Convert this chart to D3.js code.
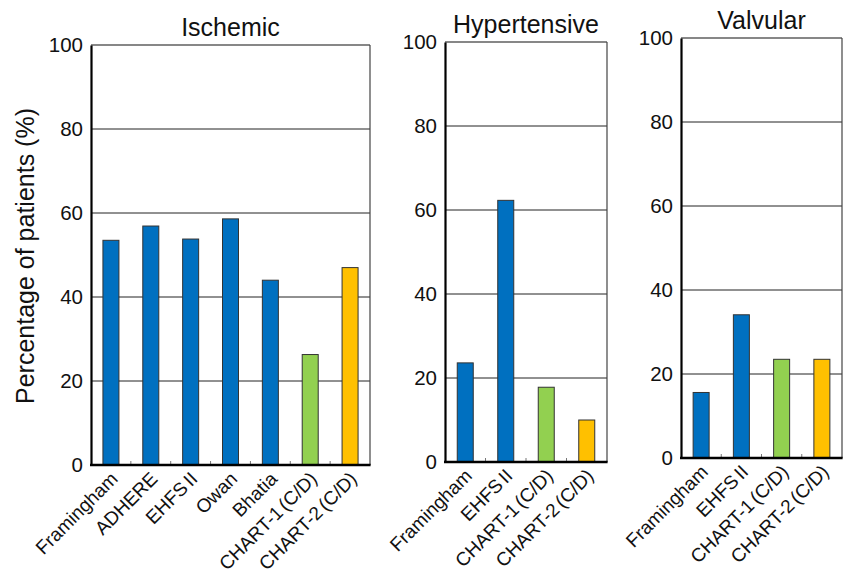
<!DOCTYPE html>
<html>
<head>
<meta charset="utf-8">
<script src="https://cdn.jsdelivr.net/npm/d3@7"></script>
<style>
  html, body { margin: 0; padding: 0; background: #fff; }
  svg { display: block; font-family: "Liberation Sans", Arial, Helvetica, sans-serif; }
</style>
</head>
<body>
<svg id="chart" width="845" height="575"></svg>
<script>
// ---- Data ----
const panelTitles = ["Ischemic", "Hypertensive", "Valvular"];
const ischemicCategories = ["Framingham", "ADHERE", "EHFS II", "Owan", "Bhatia", "CHART-1 (C/D)", "CHART-2 (C/D)"];
const ischemicValues = [53.5, 56.9, 53.8, 58.6, 44.0, 26.3, 47.0];
const hypertensiveCategories = ["Framingham", "EHFS II", "CHART-1 (C/D)", "CHART-2 (C/D)"];
const hypertensiveValues = [23.6, 62.3, 17.8, 10.0];
const valvularCategories = ["Framingham", "EHFS II", "CHART-1 (C/D)", "CHART-2 (C/D)"];
const valvularValues = [15.6, 34.1, 23.5, 23.5];
const yTicks = [0, 20, 40, 60, 80, 100];
const yAxisTitle = "Percentage of patients (%)";

// ---- Styles / layout ----
const colorFor = c => c.startsWith("CHART-1") ? "#92D050" : c.startsWith("CHART-2") ? "#FFC000" : "#0070C0";
const panels = [
  { title: panelTitles[0], cats: ischemicCategories, vals: ischemicValues, left: 91, right: 370, top: 45, bottom: 465 },
  { title: panelTitles[1], cats: hypertensiveCategories, vals: hypertensiveValues, left: 445, right: 607, top: 42, bottom: 462 },
  { title: panelTitles[2], cats: valvularCategories, vals: valvularValues, left: 681, right: 842, top: 38, bottom: 458 }
];
const barW = 16;

const svg = d3.select("#chart");

panels.forEach(p => {
  const g = svg.append("g");
  const x = d3.scaleBand().domain(p.cats).range([p.left, p.right]).padding(0);
  const y = d3.scaleLinear().domain([0, 100]).range([p.bottom, p.top]);

  // gridlines
  g.selectAll("line.grid").data(yTicks.filter(t => t > 0 && t < 100)).enter().append("line")
    .attr("x1", p.left).attr("x2", p.right)
    .attr("y1", d => y(d)).attr("y2", d => y(d))
    .attr("stroke", "#222").attr("stroke-width", 1);

  // top & right frame
  g.append("line").attr("x1", p.left).attr("x2", p.right).attr("y1", y(100)).attr("y2", y(100))
    .attr("stroke", "#111").attr("stroke-width", 1.2);
  g.append("line").attr("x1", p.right).attr("x2", p.right).attr("y1", y(100)).attr("y2", y(0))
    .attr("stroke", "#444").attr("stroke-width", 1.2);

  // bars
  g.selectAll("rect.bar").data(p.cats).enter().append("rect")
    .attr("x", (d) => x(d) + x.bandwidth() / 2 - barW / 2)
    .attr("width", barW)
    .attr("y", (d, i) => y(p.vals[i]))
    .attr("height", (d, i) => y(0) - y(p.vals[i]))
    .attr("fill", d => colorFor(d))
    .attr("stroke", "#333").attr("stroke-width", 1);

  // inner category ticks at band boundaries
  g.selectAll("line.ctick").data(p.cats.slice(1)).enter().append("line")
    .attr("x1", d => x(d)).attr("x2", d => x(d))
    .attr("y1", y(0)).attr("y2", y(0) - 4)
    .attr("stroke", "#777").attr("stroke-width", 1);

  // left axis & bottom axis (thick)
  const yAxis = d3.axisLeft(y).tickValues(yTicks).tickSize(0).tickPadding(8);
  const ya = g.append("g").attr("transform", `translate(${p.left},0)`).call(yAxis);
  ya.attr("font-size", 20).attr("font-family", "'Liberation Sans', Arial, sans-serif");
  ya.select(".domain").attr("stroke", "#000").attr("stroke-width", 2.2);
  ya.selectAll("text").attr("font-size", 20.5).attr("fill", "#111");

  g.append("line").attr("x1", p.left - 1).attr("x2", p.right + 0.6).attr("y1", y(0)).attr("y2", y(0))
    .attr("stroke", "#000").attr("stroke-width", 2.6);

  // category labels
  g.selectAll("text.cat").data(p.cats).enter().append("text")
    .attr("transform", d => `translate(${x(d) + x.bandwidth() / 2 + 8},${p.bottom + 15}) rotate(-45)`)
    .attr("text-anchor", "end")
    .attr("font-size", 19).attr("word-spacing", -2.5).attr("fill", "#111")
    .text(d => d);

  // title
  g.append("text")
    .attr("x", (p.left + p.right) / 2).attr("y", p.top - 9)
    .attr("text-anchor", "middle").attr("font-size", 25).attr("fill", "#111")
    .text(p.title);
});

// y-axis title
svg.append("text")
  .attr("transform", `translate(34,${(panels[0].top + panels[0].bottom) / 2 + 1}) rotate(-90)`)
  .attr("text-anchor", "middle").attr("font-size", 25).attr("fill", "#111")
  .text(yAxisTitle);
</script>
</body>
</html>
